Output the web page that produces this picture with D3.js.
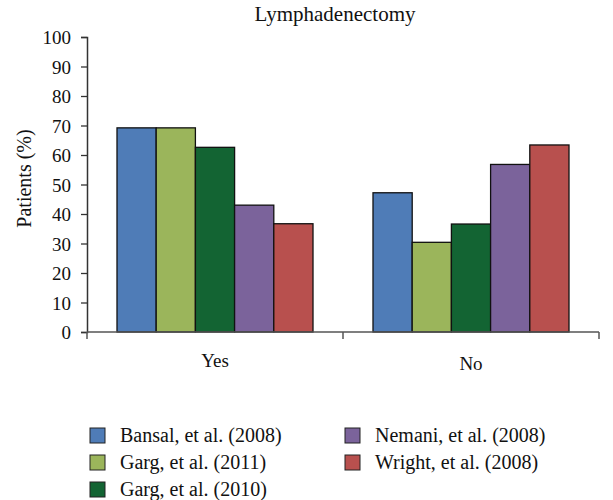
<!DOCTYPE html>
<html>
<head>
<meta charset="utf-8">
<script src="https://cdn.jsdelivr.net/npm/d3@7"></script>
<style>
  body { margin: 0; background: #fff; }
  svg text { font-family: "Liberation Serif", "DejaVu Serif", serif; fill: #111; }
</style>
</head>
<body>
<svg id="chart" width="613" height="500"></svg>
<script>
// chart data
var categories = ["Yes", "No"];
var studies = ["Bansal, et al. (2008)", "Garg, et al. (2011)", "Garg, et al. (2010)", "Nemani, et al. (2008)", "Wright, et al. (2008)"];
var yesValues = [69.2, 69.2, 62.6, 43.0, 36.7];
var noValues = [47.2, 30.4, 36.6, 56.8, 63.4];
var yTicks = [0, 10, 20, 30, 40, 50, 60, 70, 80, 90, 100];
var colors = ["#4f7cb7", "#9bb55b", "#136433", "#7b639b", "#b8504e"];

var serif = "'Liberation Serif', 'DejaVu Serif', serif";
var svg = d3.select("#chart");
var margin = {left: 87, right: 14, top: 37, bottom: 168};
var width = 613 - margin.left - margin.right,
    height = 500 - margin.top - margin.bottom;

var g = svg.append("g").attr("transform", "translate(" + margin.left + "," + margin.top + ")");

var x = d3.scaleBand().domain(categories).range([0, width]);
var xs = d3.scaleBand().domain(studies).range([30, x.bandwidth() - 30]);
var y = d3.scaleLinear().domain([0, 100]).range([height, 0]);

var rows = categories.map(function(c, i) {
  var vals = i == 0 ? yesValues : noValues;
  return {cat: c, vals: studies.map(function(s, j) { return {study: s, value: vals[j], color: colors[j]}; })};
});

// bars
g.selectAll(".grp")
  .data(rows)
  .enter().append("g")
  .attr("transform", function(d) { return "translate(" + x(d.cat) + ",0)"; })
  .selectAll("rect")
  .data(function(d) { return d.vals; })
  .enter().append("rect")
  .attr("x", function(d) { return xs(d.study); })
  .attr("width", xs.bandwidth())
  .attr("y", function(d) { return y(d.value); })
  .attr("height", function(d) { return height - y(d.value); })
  .attr("fill", function(d) { return d.color; })
  .attr("stroke", "#111")
  .attr("stroke-width", 1.3);

// y axis
var yAxis = g.append("g")
  .call(d3.axisLeft(y).tickValues(yTicks).tickSize(6).tickPadding(10));
yAxis.attr("font-family", serif);
yAxis.selectAll("text").style("font-size", "19px").style("font-family", serif).attr("dy", "0.35em");
yAxis.select(".domain").attr("stroke", "#333").attr("stroke-width", 1.5);
yAxis.selectAll(".tick line").attr("stroke", "#333").attr("stroke-width", 1.3);

// x axis with ticks at band edges
var xAxis = g.append("g").attr("transform", "translate(0," + height + ")");
xAxis.append("line").attr("x1", 0).attr("x2", width).attr("stroke", "#555").attr("stroke-width", 1.5);
xAxis.selectAll(".xt")
  .data([0, 1, 2])
  .enter().append("line")
  .attr("x1", function(d) { return d * x.bandwidth(); })
  .attr("x2", function(d) { return d * x.bandwidth(); })
  .attr("y1", 0).attr("y2", 7)
  .attr("stroke", "#555").attr("stroke-width", 1.5);
xAxis.selectAll(".xl")
  .data(categories)
  .enter().append("text")
  .attr("x", function(d) { return x(d) + x.bandwidth() / 2; })
  .attr("y", function(d, i) { return i == 0 ? 35 : 38; })
  .attr("text-anchor", "middle")
  .style("font-size", "19px")
  .style("font-family", serif)
  .text(function(d) { return d; });

// title and y label
svg.append("text")
  .attr("x", 335).attr("y", 21)
  .attr("text-anchor", "middle")
  .style("font-size", "21px")
  .style("font-family", serif)
  .text("Lymphadenectomy");

svg.append("text")
  .attr("transform", "translate(31," + (margin.top + height / 2 - 6) + ") rotate(-90)")
  .attr("text-anchor", "middle")
  .style("font-size", "20px")
  .style("font-family", serif)
  .text("Patients (%)");

// legend
var legend = svg.append("g");
var legItems = legend.selectAll(".leg")
  .data(studies)
  .enter().append("g")
  .attr("transform", function(d, i) {
    var col = i < 3 ? 0 : 1;
    var row = i < 3 ? i : i - 3;
    return "translate(" + (90 + col * 255) + "," + (428 + row * 27) + ")";
  });
legItems.append("rect")
  .attr("width", 15).attr("height", 15)
  .attr("fill", function(d, i) { return colors[i]; })
  .attr("stroke", "#222").attr("stroke-width", 1);
legItems.append("text")
  .attr("x", 30)
  .attr("y", 14)
  .style("font-size", "20px")
  .style("font-family", serif)
  .text(function(d) { return d; });
</script>
</body>
</html>
